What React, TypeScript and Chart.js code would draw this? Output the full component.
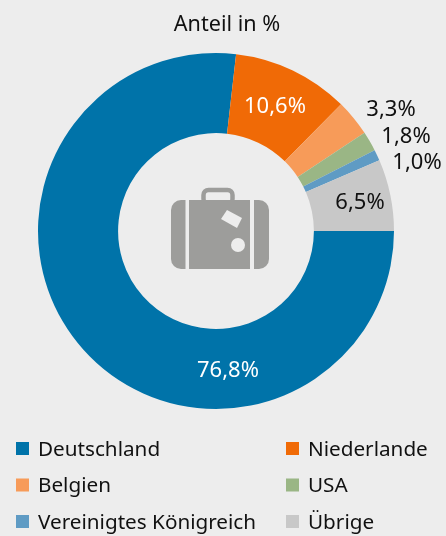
import React, { useEffect, useRef } from "react";
import { Chart, registerables } from "chart.js";

Chart.register(...registerables);

const categories = ["Deutschland", "Niederlande", "Belgien", "USA", "Vereinigtes Königreich", "Übrige"];
const shares = [76.8, 10.6, 3.3, 1.8, 1.0, 6.5];
const colors = ["#0073a9", "#f06a06", "#f79b59", "#9ab685", "#5f9bc4", "#c8c8c8"];
const shareTexts = ["76,8%", "10,6%", "3,3%", "1,8%", "1,0%", "6,5%"];
const labelColors = ["#ffffff", "#ffffff", "#111111", "#111111", "#111111", "#111111"];
const labelOffsets: [number, number][] = [[12, 140], [59, -124], [175, -121], [190, -94], [201, -68], [144, -28]];
const legendOrder = [0, 1, 2, 3, 4, 5];
const FONT = '"Noto Sans", sans-serif';

const decor = {
  id: "decor",
  afterDraw(chart: any) {
    const { ctx } = chart;
    const arc = chart.getDatasetMeta(0).data[0];
    const cx = arc.x;
    const cy = arc.y;
    ctx.save();
    ctx.textBaseline = "middle";
    ctx.textAlign = "center";
    ctx.fillStyle = "#111111";
    ctx.font = `21.6px ${FONT}`;
    ctx.fillText("Anteil in %", 227, 25);
    ctx.font = `22px ${FONT}`;
    shareTexts.forEach((t, i) => {
      ctx.fillStyle = labelColors[i];
      ctx.fillText(t, cx + labelOffsets[i][0], cy + labelOffsets[i][1]);
    });
    ctx.textAlign = "left";
    ctx.font = `20.7px ${FONT}`;
    legendOrder.forEach((k, i) => {
      const col = i % 2;
      const row = Math.floor(i / 2);
      const sx = col ? 286 : 16;
      const y = 449 + row * 36.5;
      ctx.fillStyle = colors[k];
      ctx.fillRect(sx, y - 7, 13, 13);
      ctx.fillStyle = "#111111";
      ctx.fillText(categories[k], sx + 22, y + 1);
    });
    // suitcase icon
    const g = "#9d9d9b";
    ctx.fillStyle = g;
    ctx.beginPath();
    ctx.roundRect(171, 200, 14.5, 69, [10, 0, 0, 10]);
    ctx.fill();
    ctx.fillRect(189, 200, 61, 69);
    ctx.beginPath();
    ctx.roundRect(254, 200, 15, 69, [0, 10, 10, 0]);
    ctx.fill();
    ctx.strokeStyle = g;
    ctx.lineWidth = 4.5;
    ctx.beginPath();
    ctx.roundRect(203.5, 190, 29, 14, 5);
    ctx.stroke();
    ctx.fillStyle = g;
    ctx.fillRect(189, 200, 61, 10);
    ctx.fillStyle = "#ededed";
    ctx.beginPath();
    ctx.moveTo(227, 210);
    ctx.lineTo(242, 218);
    ctx.lineTo(237, 228);
    ctx.lineTo(221, 219);
    ctx.closePath();
    ctx.fill();
    ctx.beginPath();
    ctx.arc(238, 245, 7, 0, Math.PI * 2);
    ctx.fill();
    ctx.restore();
  },
};

export default function App() {
  const ref = useRef<HTMLCanvasElement>(null);
  useEffect(() => {
    document.body.style.margin = "0";
    document.body.style.background = "#ededed";
    const chart = new Chart(ref.current!, {
      type: "doughnut",
      data: {
        labels: categories,
        datasets: [{ data: shares, backgroundColor: colors, borderWidth: 0 }],
      },
      options: {
        animation: false,
        responsive: false,
        rotation: 90,
        cutout: "55%",
        layout: { padding: { left: 38, right: 52, top: 53, bottom: 127 } },
        plugins: { legend: { display: false }, tooltip: { enabled: false }, title: { display: false } },
      },
      plugins: [decor],
    });
    return () => chart.destroy();
  }, []);
  return (
    <div style={{ width: 446, height: 536, background: "#ededed" }}>
      <canvas ref={ref} width={446} height={536} style={{ display: "block" }} />
    </div>
  );
}
